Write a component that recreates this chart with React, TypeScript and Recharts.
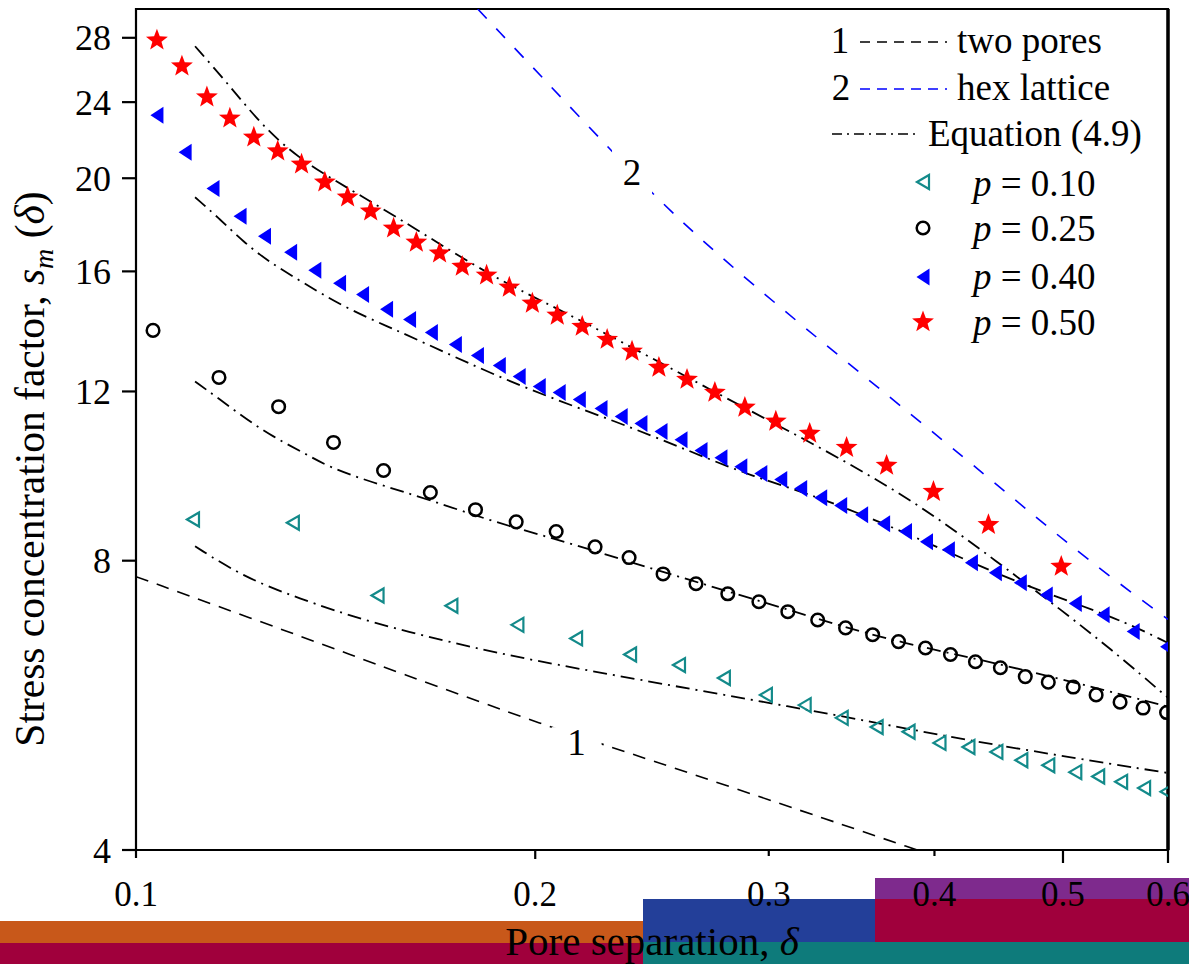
import React from 'react';
import { ComposedChart, Line, Scatter, XAxis, YAxis, ReferenceArea, ReferenceLine, ReferenceDot } from 'recharts';

const xTicks = [0.1, 0.2, 0.3, 0.4, 0.5, 0.6];
const yTicks = [4, 8, 12, 16, 20, 24, 28];

// simulation points
const p10X = [0.1104, 0.1313, 0.1521, 0.1729, 0.1939, 0.2147, 0.2358, 0.2567, 0.2775, 0.2985, 0.3193, 0.3405, 0.3618, 0.3824, 0.4035, 0.4243, 0.4454, 0.4651, 0.4874, 0.5108, 0.5315, 0.5531, 0.5756, 0.5985];
const p10Y = [8.83, 8.76, 7.36, 7.18, 6.86, 6.64, 6.39, 6.23, 6.04, 5.80, 5.66, 5.49, 5.37, 5.31, 5.17, 5.12, 5.06, 4.96, 4.90, 4.82, 4.77, 4.71, 4.64, 4.60];

const p25X = [0.1030, 0.1155, 0.1281, 0.1409, 0.1537, 0.1667, 0.1803, 0.1935, 0.2074, 0.2219, 0.2354, 0.2497, 0.2644, 0.2794, 0.2949, 0.3101, 0.3266, 0.3428, 0.3593, 0.3758, 0.3938, 0.4113, 0.4295, 0.4485, 0.4683, 0.4874, 0.5090, 0.5296, 0.5521, 0.5746, 0.5985];
const p25Y = [13.89, 12.41, 11.57, 10.62, 9.93, 9.42, 9.04, 8.78, 8.58, 8.27, 8.06, 7.75, 7.57, 7.39, 7.25, 7.08, 6.94, 6.81, 6.70, 6.59, 6.49, 6.39, 6.28, 6.19, 6.06, 5.98, 5.91, 5.80, 5.70, 5.62, 5.56];

const p40X = [0.1037, 0.1089, 0.1143, 0.1198, 0.1250, 0.1308, 0.1364, 0.1424, 0.1482, 0.1545, 0.1608, 0.1670, 0.1741, 0.1809, 0.1879, 0.1945, 0.2014, 0.2085, 0.2159, 0.2242, 0.2322, 0.2403, 0.2488, 0.2576, 0.2667, 0.2761, 0.2858, 0.2959, 0.3063, 0.3171, 0.3283, 0.3399, 0.3525, 0.3662, 0.3804, 0.3945, 0.4098, 0.4265, 0.4446, 0.4643, 0.4857, 0.5108, 0.5361, 0.5648, 0.5985];
const p40Y = [23.26, 21.28, 19.52, 18.26, 17.40, 16.75, 16.04, 15.55, 15.14, 14.61, 14.26, 13.82, 13.43, 13.08, 12.77, 12.44, 12.14, 11.97, 11.77, 11.52, 11.30, 11.11, 10.90, 10.69, 10.42, 10.24, 10.02, 9.86, 9.72, 9.51, 9.30, 9.13, 8.93, 8.74, 8.58, 8.37, 8.21, 7.96, 7.77, 7.59, 7.37, 7.22, 7.03, 6.75, 6.51];

const p50X = [0.1037, 0.1083, 0.1131, 0.1177, 0.1227, 0.1279, 0.1333, 0.1388, 0.1444, 0.1503, 0.1564, 0.1627, 0.1694, 0.1762, 0.1838, 0.1912, 0.1990, 0.2078, 0.2170, 0.2266, 0.2366, 0.2479, 0.2603, 0.2732, 0.2878, 0.3037, 0.3221, 0.3434, 0.3681, 0.3993, 0.4393, 0.4985];
const p50Y = [27.84, 26.16, 24.29, 23.09, 22.06, 21.34, 20.68, 19.81, 19.11, 18.48, 17.74, 17.15, 16.71, 16.19, 15.85, 15.40, 14.82, 14.40, 14.02, 13.59, 13.21, 12.71, 12.35, 11.97, 11.55, 11.17, 10.85, 10.49, 10.05, 9.44, 8.72, 7.89];

// Equation (4.9) curves
const eq10X = [0.1108, 0.1204, 0.1322, 0.1500, 0.1783, 0.1982, 0.2354, 0.3160, 0.3760, 0.4339, 0.6];
const eq10Y = [8.28, 7.70, 7.32, 6.90, 6.51, 6.31, 6.04, 5.62, 5.37, 5.17, 4.81];
const eq25X = [0.1108, 0.1157, 0.1212, 0.1268, 0.1336, 0.1400, 0.1500, 0.1664, 0.1869, 0.2110, 0.2366, 0.2658, 0.2985, 0.3346, 0.3739, 0.4603, 0.6];
const eq25Y = [12.29, 11.77, 11.22, 10.77, 10.37, 10.00, 9.67, 9.26, 8.76, 8.37, 7.96, 7.59, 7.23, 6.89, 6.59, 6.20, 5.64];
const eq40X = [0.1108, 0.1157, 0.1204, 0.1261, 0.1336, 0.1432, 0.1553, 0.1616, 0.1945, 0.2313, 0.2598, 0.2913, 0.3272, 0.3871, 0.4603, 0.5474, 0.6];
const eq40Y = [19.11, 18.13, 17.19, 16.35, 15.58, 14.71, 13.99, 13.66, 12.14, 11.14, 10.44, 9.79, 9.33, 8.47, 7.59, 6.99, 6.57];
const eq50X = [0.1108, 0.1177, 0.1246, 0.1336, 0.1482, 0.1664, 0.1869, 0.2185, 0.2751, 0.3272, 0.3871, 0.4470, 0.4985, 0.5474, 0.6];
const eq50Y = [27.44, 24.94, 22.65, 20.78, 19.15, 17.36, 15.70, 14.16, 11.91, 10.52, 9.22, 7.96, 7.11, 6.42, 5.76];

// 1: two pores, 2: hex lattice
const twoPoresX = [0.1, 0.1322, 0.1572, 0.2058, 0.2354, 0.3446, 0.388];
const twoPoresY = [7.70, 6.70, 6.13, 5.36, 5.05, 4.23, 4.0];
const hexX = [0.181, 0.228, 0.266, 0.422, 0.516, 0.6];
const hexY = [30, 21.4, 17.1, 10.24, 8.1, 6.95];

const label1 = { x: 0.2149, y: 5.18 };
const label2 = { x: 0.2366, y: 20.3 };

const zip = (xs: number[], ys: number[]) => xs.map((x, i) => ({ x, y: ys[i] }));

const FONT = '"Liberation Serif", "Times New Roman", serif';
const TEAL = '#138a8a';
const DASHDOT = '14 6 2 6';

const starPath = (cx: number, cy: number, R: number, r: number) => {
  let d = '';
  for (let i = 0; i < 10; i++) {
    const a = (-90 + i * 36) * Math.PI / 180;
    const rad = i % 2 === 0 ? R : r;
    d += (i === 0 ? 'M' : 'L') + (cx + rad * Math.cos(a)).toFixed(2) + ',' + (cy + rad * Math.sin(a)).toFixed(2);
  }
  return d + 'Z';
};

const OpenTri = ({ cx, cy }: any) => (
  <polygon points={`${cx - 6},${cy} ${cx + 6},${cy - 7} ${cx + 6},${cy + 7}`} fill="none" stroke={TEAL} strokeWidth={2.2} />
);
const Ring = ({ cx, cy }: any) => (
  <circle cx={cx} cy={cy} r={6.3} fill="none" stroke="#000" strokeWidth={2.5} />
);
const FilledTri = ({ cx, cy }: any) => (
  <polygon points={`${cx - 6.5},${cy} ${cx + 6.5},${cy - 8.5} ${cx + 6.5},${cy + 8.5}`} fill="#0000ff" />
);
const Star = ({ cx, cy }: any) => <path d={starPath(cx, cy, 11.5, 4.8)} fill="#ff0000" />;

const XTick = (props: any) => {
  const { x, y, payload } = props;
  const lens: Record<string, number> = { '0.1': 8, '0.2': 9, '0.3': 6, '0.4': 6, '0.5': 13, '0.6': 13 };
  return (
    <g>
      <line x1={x} x2={x} y1={y} y2={y + (lens[String(payload.value)] ?? 8)} stroke="#000" strokeWidth={2.2} />
      <text x={x} y={y + 56} textAnchor="middle" fontSize={35} fontFamily={FONT} fill="#000">{payload.value}</text>
    </g>
  );
};

const YTick = (props: any) => {
  const { x, y, payload } = props;
  return (
    <g>
      <line x1={x - 14} x2={x} y1={y} y2={y} stroke="#000" strokeWidth={2.2} />
      <text x={x - 25} y={y} dy="0.35em" textAnchor="end" fontSize={36} fontFamily={FONT} fill="#000">{payload.value}</text>
    </g>
  );
};

const NumLabel = (text: string, w: number, h: number) => (props: any) => {
  const { cx, cy } = props;
  return (
    <g>
      <rect x={cx - w / 2} y={cy - h / 2} width={w} height={h} fill="#fff" />
      <text x={cx} y={cy} dy="0.35em" textAnchor="middle" fontSize={37} fontFamily={FONT} fill="#000">{text}</text>
    </g>
  );
};

const LegendBox = () => {
  const t = { fontSize: 37, fontFamily: FONT, fill: '#000' } as const;
  return (
    <svg width={389} height={370} style={{ position: 'absolute', left: 800, top: 0 }}>
      <text x={40} y={40} dy="0.35em" textAnchor="middle" {...t}>1</text>
      <line x1={60} x2={147} y1={42} y2={42} stroke="#000" strokeWidth={1.6} strokeDasharray="10 7" />
      <text x={157} y={40} dy="0.35em" {...t}>two pores</text>
      <text x={41} y={87} dy="0.35em" textAnchor="middle" {...t}>2</text>
      <line x1={60} x2={147} y1={89} y2={89} stroke="#0000ff" strokeWidth={1.6} strokeDasharray="10 7" />
      <text x={157} y={87} dy="0.35em" {...t}>hex lattice</text>
      <line x1={32} x2={117} y1={134} y2={134} stroke="#000" strokeWidth={1.6} strokeDasharray="10 5 2 5" />
      <text x={128} y={133} dy="0.35em" {...t}>Equation (4.9)</text>
      <OpenTri cx={123} cy={182} />
      <text x={173} y={183} dy="0.35em" {...t}><tspan fontStyle="italic">p</tspan> = 0.10</text>
      <Ring cx={123} cy={228} />
      <text x={173} y={228} dy="0.35em" {...t}><tspan fontStyle="italic">p</tspan> = 0.25</text>
      <FilledTri cx={123} cy={277} />
      <text x={173} y={276} dy="0.35em" {...t}><tspan fontStyle="italic">p</tspan> = 0.40</text>
      <Star cx={123} cy={322} />
      <text x={173} y={322} dy="0.35em" {...t}><tspan fontStyle="italic">p</tspan> = 0.50</text>
    </svg>
  );
};

const bars = [
  { left: 0, top: 921, width: 643, height: 22, bg: '#c8581a' },
  { left: 0, top: 943, width: 643, height: 21, bg: '#a0003c' },
  { left: 643, top: 899, width: 232, height: 43, bg: '#233f99' },
  { left: 875, top: 878, width: 314, height: 21, bg: '#7e2a8d' },
  { left: 875, top: 899, width: 314, height: 43, bg: '#a0003c' },
  { left: 643, top: 942, width: 546, height: 22, bg: '#0e7b7b' },
];

export default function App() {
  return (
    <div style={{ position: 'absolute', left: 0, top: 0, width: 1189, height: 964, background: '#fff', overflow: 'hidden' }}>
      {bars.map((b, i) => (
        <div key={i} style={{ position: 'absolute', left: b.left, top: b.top, width: b.width, height: b.height, background: b.bg }} />
      ))}
      <div style={{ position: 'absolute', left: 0, top: 0 }}>
        <ComposedChart width={1189} height={964} margin={{ top: 9, right: 21, bottom: 0, left: 0 }}>
          <XAxis dataKey="x" type="number" scale="log" domain={[0.1, 0.6]} ticks={xTicks} allowDataOverflow
            height={114} axisLine={false} tickLine={false} tickSize={0} tickMargin={0} tick={<XTick />} interval={0} />
          <YAxis dataKey="y" type="number" scale="log" domain={[4, 30]} ticks={yTicks} allowDataOverflow
            width={136} axisLine={false} tickLine={false} tickSize={0} tickMargin={0} tick={<YTick />} interval={0} />
          <ReferenceArea x1={0.1} x2={0.6} y1={4} y2={30} fill="none" stroke="#000" strokeWidth={2.2} />
          <ReferenceLine x={0.6} stroke="#000" strokeWidth={3.5} />

          <Line data={zip(twoPoresX, twoPoresY)} dataKey="y" type="basis" stroke="#000" strokeWidth={1.6} strokeDasharray="13 9" dot={false} isAnimationActive={false} />
          <Line data={zip(hexX, hexY)} dataKey="y" type="basis" stroke="#0000ff" strokeWidth={1.6} strokeDasharray="13 14" dot={false} isAnimationActive={false} />
          <Line data={zip(eq10X, eq10Y)} dataKey="y" type="basis" stroke="#000" strokeWidth={1.8} strokeDasharray={DASHDOT} dot={false} isAnimationActive={false} />
          <Line data={zip(eq25X, eq25Y)} dataKey="y" type="basis" stroke="#000" strokeWidth={1.8} strokeDasharray={DASHDOT} dot={false} isAnimationActive={false} />
          <Line data={zip(eq40X, eq40Y)} dataKey="y" type="basis" stroke="#000" strokeWidth={1.8} strokeDasharray={DASHDOT} dot={false} isAnimationActive={false} />
          <Line data={zip(eq50X, eq50Y)} dataKey="y" type="basis" stroke="#000" strokeWidth={1.8} strokeDasharray={DASHDOT} dot={false} isAnimationActive={false} />

          <Scatter data={zip(p10X, p10Y)} shape={(p: any) => <OpenTri cx={p.cx} cy={p.cy} />} isAnimationActive={false} />
          <Scatter data={zip(p25X, p25Y)} shape={(p: any) => <Ring cx={p.cx} cy={p.cy} />} isAnimationActive={false} />
          <Scatter data={zip(p40X, p40Y)} shape={(p: any) => <FilledTri cx={p.cx} cy={p.cy} />} isAnimationActive={false} />
          <Scatter data={zip(p50X, p50Y)} shape={(p: any) => <Star cx={p.cx} cy={p.cy} />} isAnimationActive={false} />

          <ReferenceDot x={label1.x} y={label1.y} shape={NumLabel('1', 50, 30)} />
          <ReferenceDot x={label2.x} y={label2.y} shape={NumLabel('2', 40, 50)} />
        </ComposedChart>
      </div>
      <svg width={1189} height={964} style={{ position: 'absolute', left: 0, top: 0, pointerEvents: 'none' }}>
        <text transform="translate(44,469) rotate(-90)" textAnchor="middle" fontSize={41.5} fontFamily={FONT} fill="#000">
          Stress concentration factor, <tspan fontStyle="italic">s</tspan>
          <tspan fontStyle="italic" fontSize={28} dy={9}>m</tspan>
          <tspan dy={-9}> (</tspan><tspan fontStyle="italic">δ</tspan>)
        </text>
        <text x={652} y={955} textAnchor="middle" fontSize={41} fontFamily={FONT} fill="#000">
          Pore separation, <tspan fontStyle="italic">δ</tspan>
        </text>
      </svg>
      <LegendBox />
    </div>
  );
}
